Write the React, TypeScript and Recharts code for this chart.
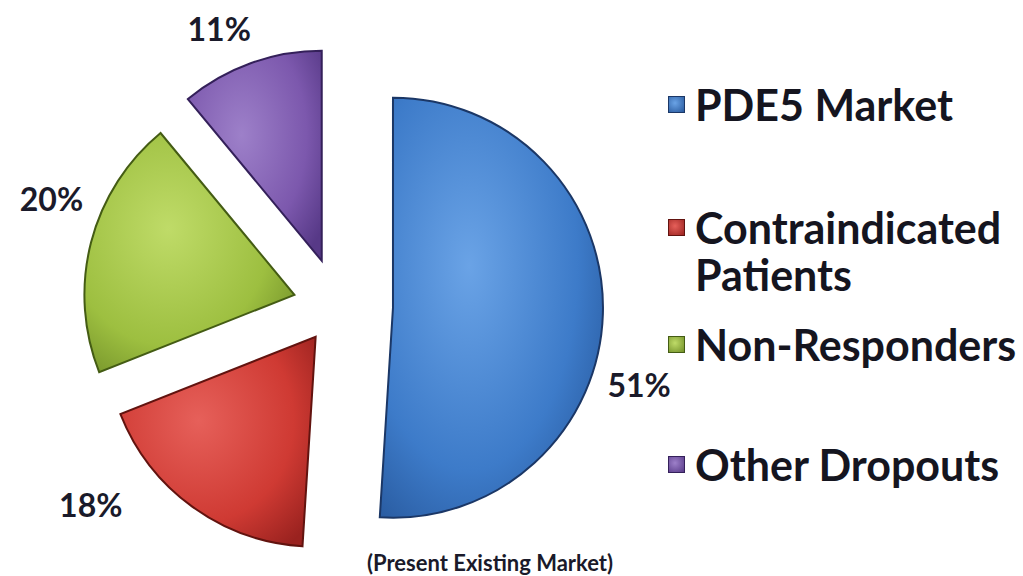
import React from 'react';
import { PieChart, Pie, Cell, Legend } from 'recharts';

// slice values, clockwise from 12 o'clock
const categories = ['PDE5 Market', 'Contraindicated Patients', 'Non-Responders', 'Other Dropouts'];
const shares = [51, 18, 20, 11];
const percentLabels = ['51%', '18%', '20%', '11%'];
const caption = '(Present Existing Market)';

const data = categories.map((name, i) => ({ name, value: shares[i] }));

const W = 1023;
const H = 576;
const CX = 338;
const CY = 306;
const R = 210;
const FONT = 'Lato, "Open Sans", sans-serif';

// light centre -> mid -> dark rim, then outline colour
const palette = [
  { stops: ['#6aa3e6', '#3d7bc9', '#27589c'], edge: '#1b3766' },
  { stops: ['#e6605a', '#cf3a33', '#9a221f'], edge: '#62130f' },
  { stops: ['#bfdb68', '#9dbf40', '#718f28'], edge: '#445c14' },
  { stops: ['#9d80c9', '#7c58ad', '#573987'], edge: '#34205a' },
];
const explode = [55, 38, 45, 48];
const labelNudge = [-18, -13, -10, 4];
const labelGap = [18, 46, 22, 44];
const legendGaps = [0, 76, 23, 73];

const RAD = Math.PI / 180;
const total = shares.reduce((a, b) => a + b, 0);
const midAngles = shares.map((v, i) => {
  const before = shares.slice(0, i).reduce((a, b) => a + b, 0);
  return 90 - (360 * (before + v / 2)) / total;
});

const makeLabel = (k: number) => (props: any) => {
  if (props.index !== k) return null;
  const a = (props.midAngle + labelNudge[k]) * RAD;
  const cos = Math.cos(a);
  const sin = Math.sin(a);
  const anchor = Math.abs(cos) < 0.5 ? 'middle' : cos > 0 ? 'start' : 'end';
  const dist = props.outerRadius + labelGap[k];
  return (
    <text
      x={props.cx + dist * cos}
      y={props.cy - dist * sin}
      textAnchor={anchor}
      dominantBaseline="central"
      fontFamily={FONT}
      fontWeight={700}
      fontSize={32}
      fill="#1a1a2a"
    >
      {percentLabels[k]}
    </text>
  );
};

const renderLegend = () => (
  <div style={{ fontFamily: FONT, fontWeight: 700, fontSize: 43, color: '#15151f', lineHeight: '47px' }}>
    {categories.map((name, i) => (
      <div key={name} style={{ display: 'flex', alignItems: 'flex-start', marginTop: legendGaps[i] }}>
        <div
          style={{
            width: 17,
            height: 17,
            marginTop: 15,
            marginLeft: 8,
            marginRight: 10,
            flex: 'none',
            boxSizing: 'border-box',
            border: `1px solid ${palette[i].edge}`,
            background: `radial-gradient(circle at 40% 40%, ${palette[i].stops[0]}, ${palette[i].stops[2]})`,
          }}
        />
        <div>{name}</div>
      </div>
    ))}
  </div>
);

export default function App() {
  return (
    <div style={{ position: 'absolute', left: 0, top: 0, width: W, height: H, background: '#fff' }}>
      <PieChart width={W} height={H} margin={{ top: 0, right: 0, bottom: 0, left: 0 }}>
        <defs>
          {palette.map((p, i) => (
            <radialGradient key={i} id={`slice${i}`} cx="40%" cy="40%" r="75%">
              <stop offset="0%" stopColor={p.stops[0]} />
              <stop offset="65%" stopColor={p.stops[1]} />
              <stop offset="100%" stopColor={p.stops[2]} />
            </radialGradient>
          ))}
        </defs>
        {data.map((_, k) => (
          <Pie
            key={k}
            data={data}
            dataKey="value"
            nameKey="name"
            cx={CX + explode[k] * Math.cos(midAngles[k] * RAD)}
            cy={CY - explode[k] * Math.sin(midAngles[k] * RAD)}
            outerRadius={R}
            startAngle={90}
            endAngle={-270}
            isAnimationActive={false}
            labelLine={false}
            label={makeLabel(k)}
            legendType="none"
          >
            {data.map((d, i) => (
              <Cell
                key={d.name}
                fill={i === k ? `url(#slice${i})` : 'none'}
                stroke={i === k ? palette[i].edge : 'none'}
                strokeWidth={2}
              />
            ))}
          </Pie>
        ))}
        <Legend
          layout="vertical"
          align="right"
          verticalAlign="middle"
          content={renderLegend}
          wrapperStyle={{ left: 660, top: 81, right: 'auto', width: 363 }}
        />
        <text
          x={490}
          y={562}
          textAnchor="middle"
          dominantBaseline="central"
          fontFamily={FONT}
          fontWeight={700}
          fontSize={22}
          fill="#1a1a2a"
        >
          {caption}
        </text>
      </PieChart>
    </div>
  );
}
